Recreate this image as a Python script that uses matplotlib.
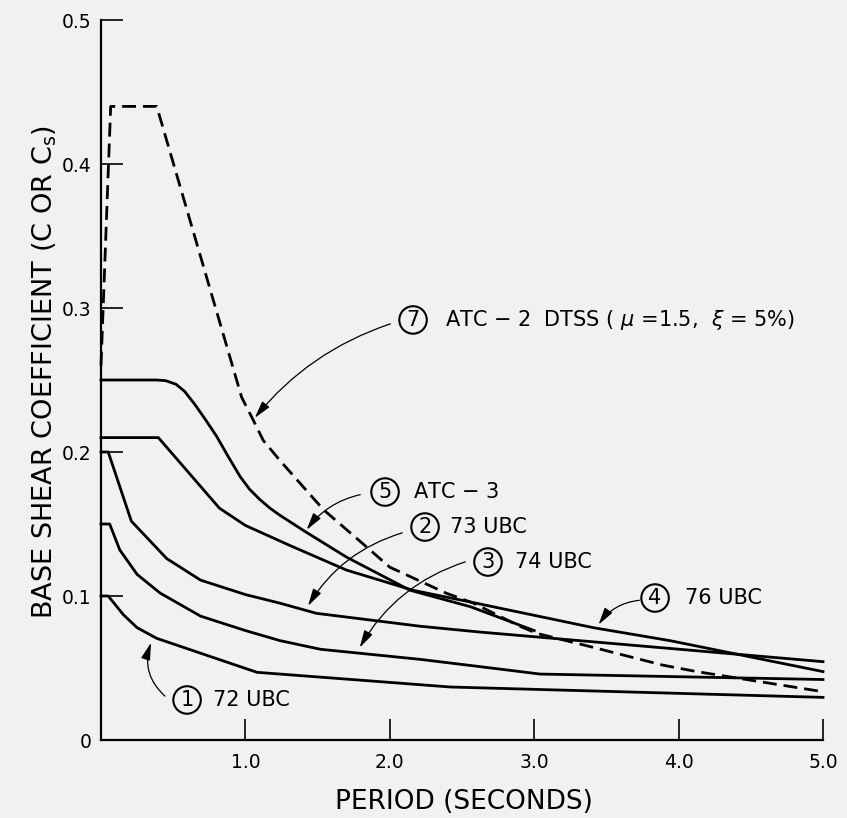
import numpy as np
import matplotlib
matplotlib.use("Agg")
import matplotlib.pyplot as plt

# period (s) / base shear coefficient
t72 = [0.0, 0.05, 0.155, 0.25, 0.386, 1.08, 2.42, 5.0]
c72 = [0.100, 0.100, 0.087, 0.078, 0.0706, 0.0470, 0.0368, 0.0296]

t73 = [0.0, 0.05, 0.21, 0.455, 0.69, 1.0, 1.24, 1.49, 2.21, 2.62, 5.0]
c73 = [0.200, 0.200, 0.152, 0.126, 0.111, 0.101, 0.095, 0.088, 0.079, 0.075, 0.0544]

t74 = [0.0, 0.06, 0.13, 0.25, 0.41, 0.69, 1.0, 1.24, 1.52, 2.21, 2.62, 3.04, 5.0]
c74 = [0.150, 0.150, 0.132, 0.115, 0.102, 0.086, 0.076, 0.069, 0.063, 0.056, 0.051, 0.0458, 0.042]

t76 = [0.0, 0.397, 0.82, 1.0, 1.31, 1.70, 2.16, 2.55, 3.41, 3.94, 5.0]
c76 = [0.210, 0.210, 0.161, 0.149, 0.135, 0.118, 0.104, 0.096, 0.078, 0.069, 0.0475]

tatc3 = [0.0, 0.385, 0.45, 0.52, 0.58, 0.65, 0.72, 0.80, 0.88, 0.963, 1.03, 1.1,
         1.17, 1.24, 1.41, 1.7, 2.14, 2.56, 3.0]
catc3 = [0.250, 0.250, 0.2495, 0.247, 0.242, 0.233, 0.223, 0.211, 0.197, 0.183, 0.174, 0.167,
         0.161, 0.156, 0.145, 0.127, 0.104, 0.0925, 0.076]

tatc2 = [0.0, 0.067, 0.386, 0.974, 1.055, 1.124, 1.24, 1.54, 1.84, 2.0, 2.39, 2.58,
         2.90, 3.02, 3.39, 3.89, 4.125, 4.97]
catc2 = [0.26, 0.44, 0.44, 0.238, 0.222, 0.208, 0.194, 0.160, 0.134, 0.120, 0.102, 0.095,
         0.079, 0.074, 0.0648, 0.052, 0.0475, 0.034]

xticks = [1, 2, 3, 4, 5]
xticklabels = ["1.0", "2.0", "3.0", "4.0", "5.0"]
yticks = [0, 0.1, 0.2, 0.3, 0.4, 0.5]
yticklabels = ["0", "0.1", "0.2", "0.3", "0.4", "0.5"]

# (number, label, circle pos, text pos, arrow start, arrow tip, rad)
notes = [
    ("7", r"ATC $-$ 2  DTSS ( $\mu$ =1.5,  $\xi$ = 5%)", (2.161, 0.2917), (2.382, 0.2917), (2.022, 0.2896), (1.053, 0.2222), 0.15),
    ("5", r"ATC $-$ 3", (1.967, 0.1722), (2.161, 0.1722), (1.814, 0.1708), (1.413, 0.1444), 0.2),
    ("2", "73 UBC", (2.244, 0.1479), (2.417, 0.1479), (2.105, 0.1444), (1.424, 0.0915), 0.2),
    ("3", "74 UBC", (2.680, 0.1236), (2.867, 0.1236), (2.541, 0.1243), (1.782, 0.0625), 0.2),
    ("4", "76 UBC", (3.837, 0.0986), (4.044, 0.0986), (3.747, 0.0972), (3.435, 0.0785), 0.25),
    ("1", "72 UBC", (0.596, 0.0278), (0.776, 0.0278), (0.457, 0.0292), (0.353, 0.0694), -0.35),
]

bg = "#f1f1ef"
fig = plt.figure(figsize=(8.47, 8.18), dpi=100, facecolor=bg)
ax = fig.add_axes([101 / 847, 78 / 818, 722 / 847, 720 / 818], facecolor=bg)

lw = 2.0
for t, c in [(t72, c72), (t73, c73), (t74, c74), (t76, c76), (tatc3, catc3)]:
    ax.plot(t, c, color="k", lw=lw, solid_joinstyle="round", clip_on=False)
ax.plot(tatc2, catc2, color="k", lw=lw, dashes=(5, 2.5), clip_on=False)

for num, lab, cpos, tpos, a0, a1, rad in notes:
    ax.text(cpos[0], cpos[1], num, fontsize=15, ha="center", va="center",
            bbox=dict(boxstyle="circle,pad=0.18", fc="none", ec="k", lw=1.5))
    ax.text(tpos[0], tpos[1], lab, fontsize=15, ha="left", va="center")
    ax.annotate("", xy=a1, xytext=a0,
                arrowprops=dict(arrowstyle="-|>,head_length=0.75,head_width=0.2",
                                connectionstyle="arc3,rad=%s" % rad,
                                color="k", lw=0.9, mutation_scale=14))

ax.set_xlim(0, 5)
ax.set_ylim(0, 0.5)
ax.spines["top"].set_visible(False)
ax.spines["right"].set_visible(False)
ax.spines["left"].set_linewidth(1.6)
ax.spines["bottom"].set_linewidth(1.6)
ax.set_xticks(xticks)
ax.set_xticklabels(xticklabels)
ax.set_yticks(yticks)
ax.set_yticklabels(yticklabels)
ax.tick_params(axis="x", direction="in", length=15, width=1.2, pad=9, labelsize=13.5)
ax.tick_params(axis="y", direction="in", length=16, width=1.2, pad=7, labelsize=13.5)

fig.text(464 / 847, 1 - 802 / 818, "PERIOD (SECONDS)", fontsize=19,
         ha="center", va="center")
fig.text(45 / 847, 1 - 372 / 818, "BASE SHEAR COEFFICIENT (C OR C$_\\mathrm{s}$)",
         fontsize=19.5, rotation=90, ha="center", va="center")

fig.savefig("out.png", dpi=100, facecolor=bg)
